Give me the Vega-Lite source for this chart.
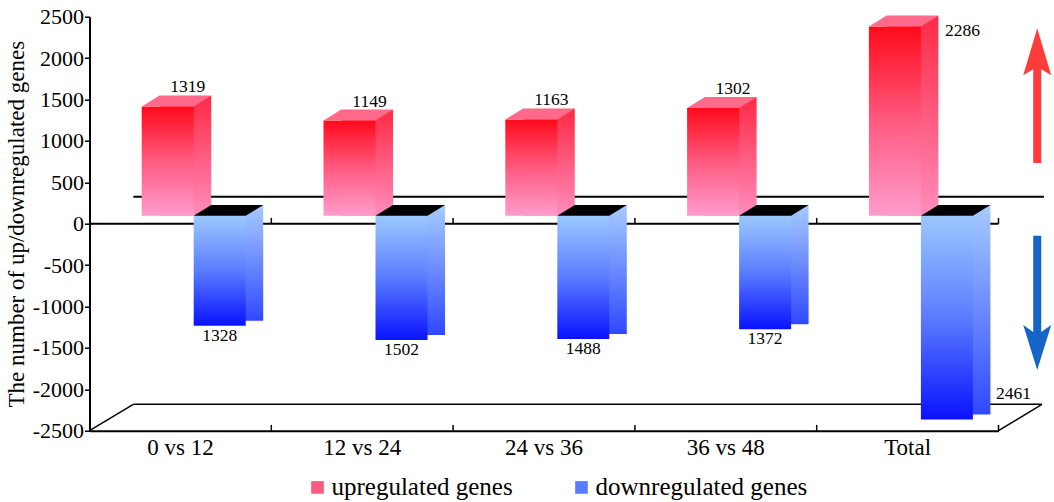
{
  "$schema": "https://vega.github.io/schema/vega-lite/v6.json",
  "width": 909,
  "height": 414,
  "autosize": {"type": "none"},
  "padding": {"left": 89.5, "top": 16.7, "right": 55.5, "bottom": 71.3},
  "background": "white",
  "config": {
    "view": {"stroke": null},
    "axis": {"grid": false, "labelFont": "Liberation Serif", "titleFont": "Liberation Serif", "labelColor": "black", "titleColor": "black", "domainColor": "black", "tickColor": "black"},
    "text": {"font": "Liberation Serif"},
    "legend": {"labelFont": "Liberation Serif", "titleFont": "Liberation Serif", "labelColor": "black"}
  },
  "datasets": {
    "genes": [
      {"cmp": "0 vs 12", "group": "upregulated genes", "value": 1319, "label": "1319"},
      {"cmp": "0 vs 12", "group": "downregulated genes", "value": -1328, "label": "1328"},
      {"cmp": "12 vs 24", "group": "upregulated genes", "value": 1149, "label": "1149"},
      {"cmp": "12 vs 24", "group": "downregulated genes", "value": -1502, "label": "1502"},
      {"cmp": "24 vs 36", "group": "upregulated genes", "value": 1163, "label": "1163"},
      {"cmp": "24 vs 36", "group": "downregulated genes", "value": -1488, "label": "1488"},
      {"cmp": "36 vs 48", "group": "upregulated genes", "value": 1302, "label": "1302"},
      {"cmp": "36 vs 48", "group": "downregulated genes", "value": -1372, "label": "1372"},
      {"cmp": "Total", "group": "upregulated genes", "value": 2286, "label": "2286"},
      {"cmp": "Total", "group": "downregulated genes", "value": -2461, "label": "2461"}
    ]
  },
  "resolve": {"scale": {"x": "independent"}, "axis": {"x": "independent"}},
  "layer": [
    {
      "data": {"values": [{}]},
      "layer": [
        {"mark": {"type": "rule", "stroke": "black", "strokeWidth": 2},
         "encoding": {
           "x": {"datum": 0.0482, "type": "quantitative", "scale": {"domain": [0, 1], "nice": false, "zero": false}, "axis": null},
           "x2": {"datum": 1.05},
           "y": {"datum": 326, "type": "quantitative", "scale": {"domain": [-2500, 2500], "nice": false}}}},
        {"mark": {"type": "rule", "stroke": "black", "strokeWidth": 2},
         "encoding": {
           "x": {"datum": 0, "type": "quantitative", "scale": {"domain": [0, 1], "nice": false, "zero": false}, "axis": null},
           "x2": {"datum": 1},
           "y": {"datum": 0, "type": "quantitative", "scale": {"domain": [-2500, 2500], "nice": false}}}},
        {"mark": {"type": "rule", "stroke": "black", "strokeWidth": 1.5},
         "encoding": {
           "x": {"datum": 0.0482, "type": "quantitative", "scale": {"domain": [0, 1], "nice": false, "zero": false}, "axis": null},
           "x2": {"datum": 1.0478},
           "y": {"datum": -2182, "type": "quantitative", "scale": {"domain": [-2500, 2500], "nice": false}}}},
        {"mark": {"type": "rule", "stroke": "black", "strokeWidth": 1.5},
         "encoding": {
           "x": {"datum": 0, "type": "quantitative", "scale": {"domain": [0, 1], "nice": false, "zero": false}, "axis": null},
           "x2": {"datum": 0.0482},
           "y": {"datum": -2500, "type": "quantitative", "scale": {"domain": [-2500, 2500], "nice": false}},
           "y2": {"datum": -2182}}},
        {"mark": {"type": "rule", "stroke": "black", "strokeWidth": 1.5},
         "encoding": {
           "x": {"datum": 1, "type": "quantitative", "scale": {"domain": [0, 1], "nice": false, "zero": false}, "axis": null},
           "x2": {"datum": 1.0478},
           "y": {"datum": -2500, "type": "quantitative", "scale": {"domain": [-2500, 2500], "nice": false}},
           "y2": {"datum": -2182}}},
        {"mark": {"type": "rule", "stroke": "#ff3c3c", "strokeWidth": 8},
         "encoding": {
           "x": {"datum": 1.0426, "type": "quantitative", "scale": {"domain": [0, 1], "nice": false, "zero": false}, "axis": null},
           "y": {"datum": 733, "type": "quantitative", "scale": {"domain": [-2500, 2500], "nice": false}},
           "y2": {"datum": 1880}}},
        {"mark": {"type": "point", "filled": true, "fill": "#ff3c3c", "opacity": 1, "strokeWidth": 0, "size": 4, "shape": "M0,0 L14,47 L4,41 L-4,41 L-14,47 Z"},
         "encoding": {
           "x": {"datum": 1.0426, "type": "quantitative", "scale": {"domain": [0, 1], "nice": false, "zero": false}, "axis": null},
           "y": {"datum": 2360, "type": "quantitative", "scale": {"domain": [-2500, 2500], "nice": false}}}},
        {"mark": {"type": "rule", "stroke": "#1565c8", "strokeWidth": 8},
         "encoding": {
           "x": {"datum": 1.0426, "type": "quantitative", "scale": {"domain": [0, 1], "nice": false, "zero": false}, "axis": null},
           "y": {"datum": -145, "type": "quantitative", "scale": {"domain": [-2500, 2500], "nice": false}},
           "y2": {"datum": -1350}}},
        {"mark": {"type": "point", "filled": true, "fill": "#1565c8", "opacity": 1, "strokeWidth": 0, "size": 4, "shape": "M0,0 L14,-45 L4,-38 L-4,-38 L-14,-45 Z"},
         "encoding": {
           "x": {"datum": 1.0426, "type": "quantitative", "scale": {"domain": [0, 1], "nice": false, "zero": false}, "axis": null},
           "y": {"datum": -1767, "type": "quantitative", "scale": {"domain": [-2500, 2500], "nice": false}}}}
      ]
    },
    {
      "data": {"name": "genes"},
      "resolve": {"scale": {"xOffset": "independent"}},
      "encoding": {
        "x": {"field": "cmp", "type": "nominal", "sort": null, "scale": {"type": "band", "paddingInner": 0, "paddingOuter": 0},
              "axis": {"title": null, "labelAngle": 0, "labelFontSize": 23, "ticks": false, "labelPadding": 6, "domainWidth": 2}}
      },
      "layer": [
        {"transform": [{"filter": "datum.group === 'upregulated genes'"}],
         "mark": {"type": "rule", "stroke": "black", "strokeWidth": 1.5},
         "encoding": {
           "x": {"field": "cmp", "type": "nominal", "sort": null, "bandPosition": 1},
           "y": {"datum": 0, "type": "quantitative", "scale": {"domain": [-2500, 2500], "nice": false}},
           "y2": {"datum": 70}}},
        {"transform": [{"filter": "datum.group === 'upregulated genes'"}],
         "mark": {"type": "rule", "stroke": "black", "strokeWidth": 1.5},
         "encoding": {
           "x": {"field": "cmp", "type": "nominal", "sort": null, "bandPosition": 1},
           "y": {"datum": -2500, "type": "quantitative", "scale": {"domain": [-2500, 2500], "nice": false}},
           "y2": {"datum": -2430}}},
        {"transform": [{"filter": "datum.group === 'upregulated genes'"}],
         "mark": {"type": "bar", "yOffset": -18.7, "y2Offset": -8,
                  "fill": {"gradient": "linear", "x1": 0, "y1": 0, "x2": 0, "y2": 1, "stops": [{"offset": 0, "color": "#ff2a44"}, {"offset": 1, "color": "#ff8cbc"}]}},
         "encoding": {
           "xOffset": {"field": "group", "type": "nominal", "scale": {"type": "band", "domain": ["upregulated genes", "downregulated genes"], "paddingInner": 0, "paddingOuter": 0.748, "align": 0.896}},
           "y": {"field": "value", "type": "quantitative", "title": "The number of up/downregulated genes", "scale": {"domain": [-2500, 2500], "nice": false}},
           "y2": {"datum": 0}}},
        {"transform": [{"filter": "datum.group === 'downregulated genes'"}],
         "mark": {"type": "bar", "yOffset": -13, "y2Offset": -18.7,
                  "fill": {"gradient": "linear", "x1": 0, "y1": 0, "x2": 0, "y2": 1, "stops": [{"offset": 0, "color": "#a6ccff"}, {"offset": 1, "color": "#3048ff"}]}},
         "encoding": {
           "xOffset": {"field": "group", "type": "nominal", "scale": {"type": "band", "domain": ["upregulated genes", "downregulated genes"], "paddingInner": 0, "paddingOuter": 0.748, "align": 0.896}},
           "y": {"field": "value", "type": "quantitative", "title": "The number of up/downregulated genes", "scale": {"domain": [-2500, 2500], "nice": false}},
           "y2": {"datum": 0}}},
        {"transform": [{"filter": "datum.group === 'upregulated genes'"}],
         "mark": {"type": "bar", "yOffset": -8, "y2Offset": -8,
                  "fill": {"gradient": "linear", "x1": 0, "y1": 0, "x2": 0, "y2": 1, "stops": [{"offset": 0, "color": "#ff0a1a"}, {"offset": 0.5, "color": "#ff5a80"}, {"offset": 1, "color": "#ff9ccc"}]}},
         "encoding": {
           "xOffset": {"field": "group", "type": "nominal", "scale": {"type": "band", "domain": ["upregulated genes", "downregulated genes"], "paddingInner": 0, "paddingOuter": 0.748, "align": 0.671}},
           "y": {"field": "value", "type": "quantitative", "title": "The number of up/downregulated genes", "scale": {"domain": [-2500, 2500], "nice": false}},
           "y2": {"datum": 0}}},
        {"transform": [{"filter": "datum.group === 'downregulated genes'"}],
         "mark": {"type": "bar", "yOffset": -8, "y2Offset": -8,
                  "fill": {"gradient": "linear", "x1": 0, "y1": 0, "x2": 0, "y2": 1, "stops": [{"offset": 0, "color": "#9cc8ff"}, {"offset": 0.5, "color": "#5a7cff"}, {"offset": 1, "color": "#0a12ff"}]}},
         "encoding": {
           "xOffset": {"field": "group", "type": "nominal", "scale": {"type": "band", "domain": ["upregulated genes", "downregulated genes"], "paddingInner": 0, "paddingOuter": 0.748, "align": 0.671}},
           "y": {"field": "value", "type": "quantitative", "title": "The number of up/downregulated genes", "scale": {"domain": [-2500, 2500], "nice": false}},
           "y2": {"datum": 0}}},
        {"mark": {"type": "bar", "opacity": 0},
         "encoding": {
           "xOffset": {"field": "group", "type": "nominal", "scale": {"type": "band", "domain": ["upregulated genes", "downregulated genes"], "paddingInner": 0, "paddingOuter": 0.748, "align": 0.671}},
           "y": {"field": "value", "type": "quantitative", "title": "The number of up/downregulated genes",
                 "scale": {"domain": [-2500, 2500], "nice": false},
                 "axis": {"values": [-2500, -2000, -1500, -1000, -500, 0, 500, 1000, 1500, 2000, 2500], "format": "d", "labelFontSize": 22, "labelPadding": 1, "tickSize": 5, "tickWidth": 1.5, "domainWidth": 2,
                          "titleFontSize": 23, "titleFontWeight": "normal", "titlePadding": 4,
                          "labelExpr": "replace(datum.label, '\u2212', '-')"}},
           "y2": {"datum": 0},
           "color": {"field": "group", "type": "nominal",
                     "scale": {"domain": ["upregulated genes", "downregulated genes"], "range": ["#ff5a80", "#5a7cff"]},
                     "legend": {"orient": "none", "legendX": 215.5, "legendY": 458, "direction": "horizontal", "title": null, "symbolType": "square", "symbolSize": 160, "symbolStrokeWidth": 0, "symbolOpacity": 1,
                                "labelFontSize": 25, "labelOffset": 1.5, "labelLimit": 400, "columnPadding": 56,
                                "encode": {"symbols": {"update": {"fill": {"signal": "datum.value === 'upregulated genes' ? {gradient: 'linear', x1: 0, y1: 0, x2: 0, y2: 1, stops: [{offset: 0, color: '#ff1a30'}, {offset: 1, color: '#ff9ccc'}]} : {gradient: 'linear', x1: 0, y1: 0, x2: 0, y2: 1, stops: [{offset: 0, color: '#9cc8ff'}, {offset: 1, color: '#1020ff'}]}"}, "opacity": {"value": 1}}}}}}}},
        {"transform": [{"filter": "datum.group === 'upregulated genes'"}],
         "mark": {"type": "point", "filled": true, "fill": "#ff6a8a", "opacity": 1, "strokeWidth": 0, "size": 4, "shape": "M-26,-8 L26,-8 L43.5,-18.7 L-8.5,-18.7 Z"},
         "encoding": {
           "xOffset": {"field": "group", "type": "nominal", "scale": {"type": "band", "domain": ["upregulated genes", "downregulated genes"], "paddingInner": 0, "paddingOuter": 0.748, "align": 0.671}},
           "y": {"field": "value", "type": "quantitative", "title": "The number of up/downregulated genes", "scale": {"domain": [-2500, 2500], "nice": false}}}},
        {"transform": [{"filter": "datum.group === 'downregulated genes'"}],
         "mark": {"type": "point", "filled": true, "fill": "#000000", "opacity": 1, "strokeWidth": 0, "size": 4, "shape": "M-26,-8 L26,-8 L43.5,-18.7 L-8.5,-18.7 Z"},
         "encoding": {
           "xOffset": {"field": "group", "type": "nominal", "scale": {"type": "band", "domain": ["upregulated genes", "downregulated genes"], "paddingInner": 0, "paddingOuter": 0.748, "align": 0.671}},
           "y": {"datum": 0, "type": "quantitative", "scale": {"domain": [-2500, 2500], "nice": false}}}},
        {"transform": [{"filter": "datum.group === 'upregulated genes' && datum.cmp !== 'Total'"}],
         "mark": {"type": "text", "fontSize": 17.5, "color": "black", "align": "center", "baseline": "alphabetic", "dx": 20, "dy": -22},
         "encoding": {
           "xOffset": {"field": "group", "type": "nominal", "scale": {"type": "band", "domain": ["upregulated genes", "downregulated genes"], "paddingInner": 0, "paddingOuter": 0.748, "align": 0.671}},
           "y": {"field": "value", "type": "quantitative", "title": "The number of up/downregulated genes", "scale": {"domain": [-2500, 2500], "nice": false}},
           "text": {"field": "label"}}},
        {"transform": [{"filter": "datum.group === 'downregulated genes' && datum.cmp !== 'Total'"}],
         "mark": {"type": "text", "fontSize": 17.5, "color": "black", "align": "center", "baseline": "alphabetic", "dx": 0, "dy": 7},
         "encoding": {
           "xOffset": {"field": "group", "type": "nominal", "scale": {"type": "band", "domain": ["upregulated genes", "downregulated genes"], "paddingInner": 0, "paddingOuter": 0.748, "align": 0.671}},
           "y": {"field": "value", "type": "quantitative", "title": "The number of up/downregulated genes", "scale": {"domain": [-2500, 2500], "nice": false}},
           "text": {"field": "label"}}},
        {"transform": [{"filter": "datum.group === 'upregulated genes' && datum.cmp === 'Total'"}],
         "mark": {"type": "text", "fontSize": 17.5, "color": "black", "align": "left", "baseline": "alphabetic", "dx": 50, "dy": 2},
         "encoding": {
           "xOffset": {"field": "group", "type": "nominal", "scale": {"type": "band", "domain": ["upregulated genes", "downregulated genes"], "paddingInner": 0, "paddingOuter": 0.748, "align": 0.671}},
           "y": {"field": "value", "type": "quantitative", "title": "The number of up/downregulated genes", "scale": {"domain": [-2500, 2500], "nice": false}},
           "text": {"field": "label"}}},
        {"transform": [{"filter": "datum.group === 'downregulated genes' && datum.cmp === 'Total'"}],
         "mark": {"type": "text", "fontSize": 17.5, "color": "black", "align": "left", "baseline": "alphabetic", "dx": 49, "dy": -28},
         "encoding": {
           "xOffset": {"field": "group", "type": "nominal", "scale": {"type": "band", "domain": ["upregulated genes", "downregulated genes"], "paddingInner": 0, "paddingOuter": 0.748, "align": 0.671}},
           "y": {"field": "value", "type": "quantitative", "title": "The number of up/downregulated genes", "scale": {"domain": [-2500, 2500], "nice": false}},
           "text": {"field": "label"}}}
      ]
    }
  ]
}
